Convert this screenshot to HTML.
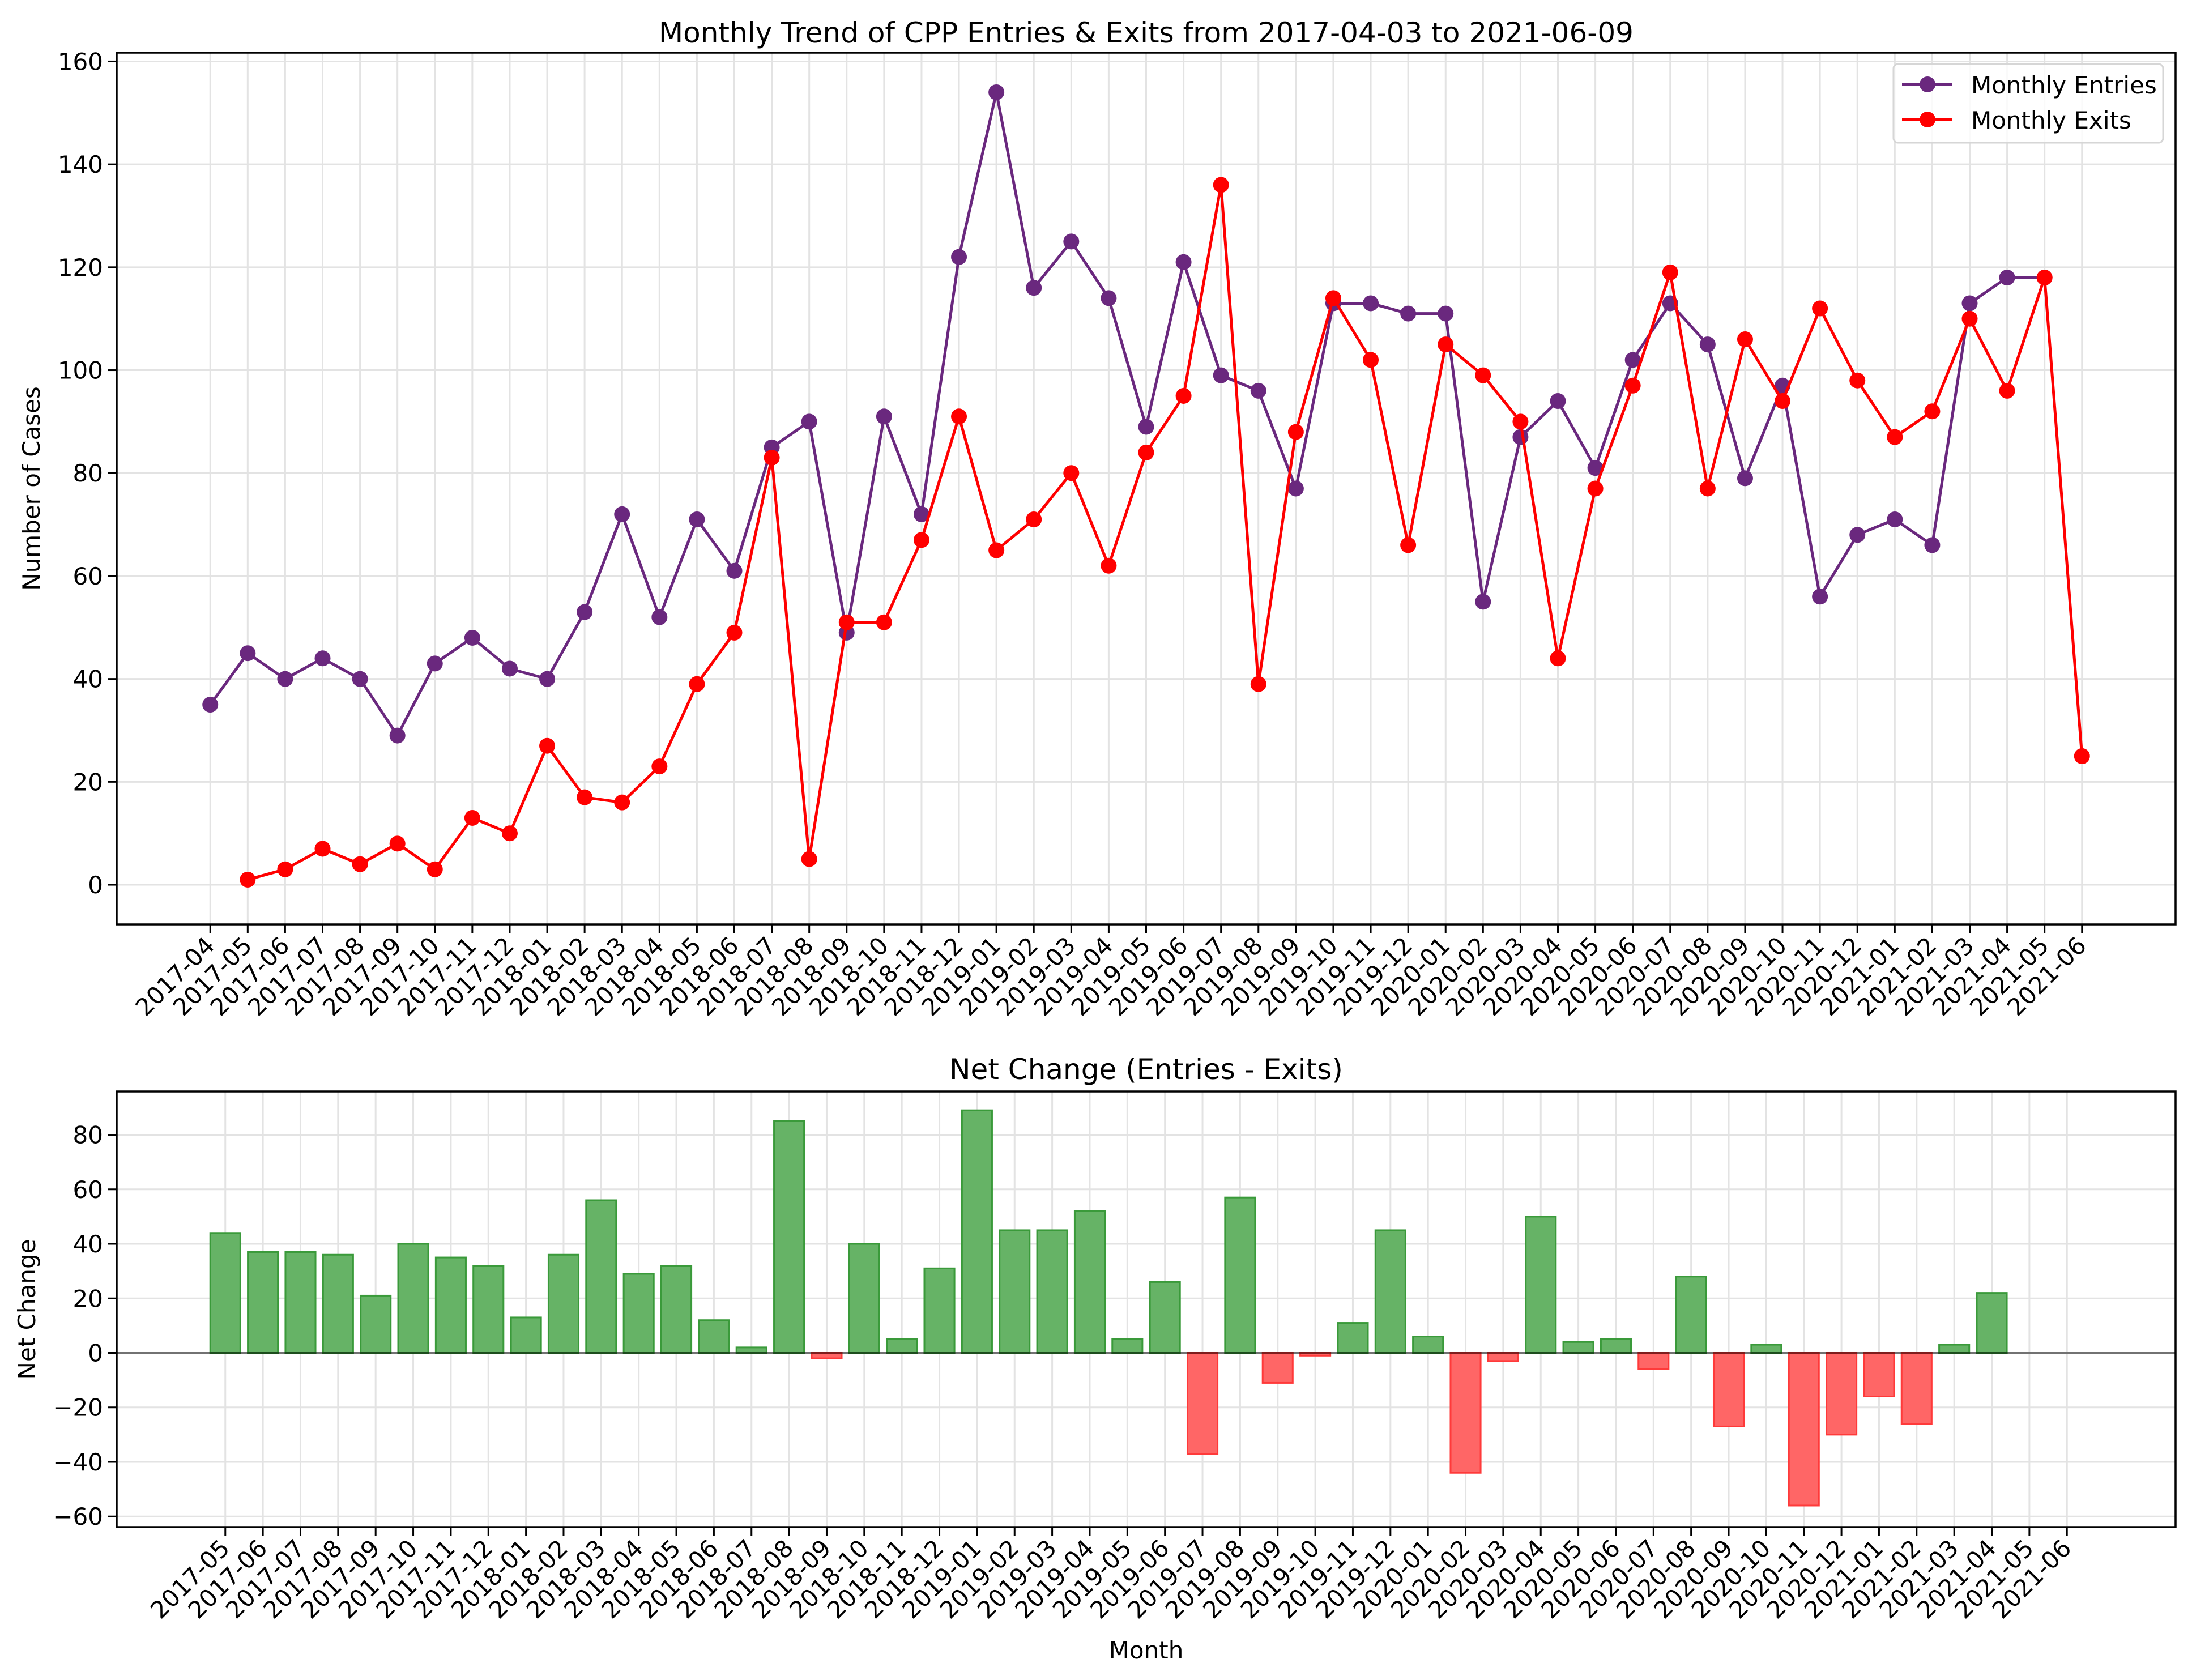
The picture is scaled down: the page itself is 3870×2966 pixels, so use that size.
<!DOCTYPE html>
<html><head><meta charset="utf-8"><style>
html,body{margin:0;padding:0;background:#fff;}
svg{display:block;font-family:"DejaVu Sans","Liberation Sans",sans-serif;}
</style></head><body>
<svg id="fig" width="3870" height="2966" viewBox="0 0 3870 2966" xmlns="http://www.w3.org/2000/svg">
<rect width="3870" height="2966" fill="#fff"/>
<g id="top"></g>
<g id="bot"></g>
</svg>
<script>
const months = ["2017-04","2017-05","2017-06","2017-07","2017-08","2017-09","2017-10","2017-11","2017-12","2018-01","2018-02","2018-03","2018-04","2018-05","2018-06","2018-07","2018-08","2018-09","2018-10","2018-11","2018-12","2019-01","2019-02","2019-03","2019-04","2019-05","2019-06","2019-07","2019-08","2019-09","2019-10","2019-11","2019-12","2020-01","2020-02","2020-03","2020-04","2020-05","2020-06","2020-07","2020-08","2020-09","2020-10","2020-11","2020-12","2021-01","2021-02","2021-03","2021-04","2021-05","2021-06"];
const entries = [35,45,40,44,40,29,43,48,42,40,53,72,52,71,61,85,90,49,91,72,122,154,116,125,114,89,121,99,96,77,113,113,111,111,55,87,94,81,102,113,105,79,97,56,68,71,66,113,118,118,null];
const exits = [null,1,3,7,4,8,3,13,10,27,17,16,23,39,49,83,5,51,51,67,91,65,71,80,62,84,95,136,39,88,114,102,66,105,99,90,44,77,97,119,77,106,94,112,98,87,92,110,96,118,25];
const netMonths = months.slice(1);
const netValues = [44,37,37,36,21,40,35,32,13,36,56,29,32,12,2,85,-2,40,5,31,89,45,45,52,5,26,-37,57,-11,-1,11,45,6,-44,-3,50,4,5,-6,28,-27,3,-56,-30,-16,-26,3,22,0,0];
const topTicks = [0,20,40,60,80,100,120,140,160];
const botTicks = [-60,-40,-20,0,20,40,60,80];

const NS="http://www.w3.org/2000/svg";
function mk(parent,tag,attrs,text){const e=document.createElementNS(NS,tag);for(const k in attrs)e.setAttribute(k,attrs[k]);if(text!==undefined)e.textContent=text;parent.appendChild(e);return e;}
const L=206,R=3841;
// top axis
const T=document.getElementById('top');
const tT=93,tB=1632,tymin=-7.7,tymax=161.7,txmin=-2.5,txmax=52.5;
const tx=i=>L+(i-txmin)/(txmax-txmin)*(R-L);
const ty=v=>tB-(v-tymin)/(tymax-tymin)*(tB-tT);
for(let i=0;i<months.length;i++){const g=mk(T,'line',{x1:tx(i),x2:tx(i),y1:tT,y2:tB,stroke:'#e3e3e3','stroke-width':3});

}
topTicks.forEach(v=>{const g=mk(T,'line',{x1:L,x2:R,y1:ty(v),y2:ty(v),stroke:'#e3e3e3','stroke-width':3});


const tk=mk(T,'line',{x1:L-15,x2:L,y1:ty(v),y2:ty(v),stroke:'#000','stroke-width':3});


const t=mk(T,'text',{x:L-24,y:ty(v)+15,'text-anchor':'end','font-size':42},String(v));

});
function series(vals,color,name){
 let pts=[];vals.forEach((v,i)=>{if(v!==null)pts.push(tx(i)+','+ty(v));});
 const pl=mk(T,'polyline',{points:pts.join(' '),fill:'none',stroke:color,'stroke-width':5,'stroke-linejoin':'round'});
 
 
 vals.forEach((v,i)=>{if(v===null)return;const c=mk(T,'circle',{cx:tx(i),cy:ty(v),r:14,fill:color});
 
 });
}
series(entries,'#6a287e','entries');
series(exits,'#ff0000','exits');
months.forEach((m,i)=>{const tk=mk(T,'line',{x1:tx(i),x2:tx(i),y1:tB,y2:tB+15,stroke:'#000','stroke-width':3});


const x=tx(i)+10,y=tB+40;
const t=mk(T,'text',{x:x,y:y,'text-anchor':'end','font-size':42,transform:`rotate(-45 ${x} ${y})`},m);

});
const fr=mk(T,'rect',{x:L,y:tT,width:R-L,height:tB-tT,fill:'none',stroke:'#000','stroke-width':3.5});


const tt=mk(T,'text',{x:(L+R)/2,y:75,'text-anchor':'middle','font-size':50},'Monthly Trend of CPP Entries & Exits from 2017-04-03 to 2021-06-09');


const yl=mk(T,'text',{x:0,y:0,'text-anchor':'middle','font-size':42,transform:`translate(70 ${(tT+tB)/2}) rotate(-90)`},'Number of Cases');


// legend
const lg=mk(T,'g',{});


mk(lg,'rect',{x:3343,y:113,width:476,height:139,rx:8,fill:'#fff','fill-opacity':0.8,stroke:'#d6d6d6','stroke-width':3});
[['Monthly Entries','#6a287e',149],['Monthly Exits','#ff0000',211]].forEach(([lab,c,y])=>{
 const e=mk(lg,'g',{});
 
 
 mk(e,'line',{x1:3358,x2:3447,y1:y,y2:y,stroke:c,'stroke-width':5});
 mk(e,'circle',{cx:3403,cy:y,r:14,fill:c});
 mk(e,'text',{x:3480,y:y+16,'font-size':42},lab);
});
// bottom axis
const B=document.getElementById('bot');
const bT=1927,bB=2696,bymin=-63.9,bymax=95.9,bxmin=-2.89,bxmax=51.89;
const bx=i=>L+(i-bxmin)/(bxmax-bxmin)*(R-L);
const by=v=>bB-(v-bymin)/(bymax-bymin)*(bB-bT);
netMonths.forEach((m,i)=>{const g=mk(B,'line',{x1:bx(i),x2:bx(i),y1:bT,y2:bB,stroke:'#e3e3e3','stroke-width':3});

});
botTicks.forEach(v=>{const g=mk(B,'line',{x1:L,x2:R,y1:by(v),y2:by(v),stroke:'#e3e3e3','stroke-width':3});


const tk=mk(B,'line',{x1:L-15,x2:L,y1:by(v),y2:by(v),stroke:'#000','stroke-width':3});


const t=mk(B,'text',{x:L-24,y:by(v)+15,'text-anchor':'end','font-size':42},String(v).replace('-','\u2212'));

});
const bw=0.8*(R-L)/(bxmax-bxmin);
netValues.forEach((v,i)=>{const pos=v>=0;const y0=by(0),y1=by(v);
 const r=mk(B,'rect',{x:bx(i)-bw/2,y:Math.min(y0,y1),width:bw,height:Math.abs(y1-y0),fill:pos?'#66b366':'#ff6666',stroke:pos?'#3a9a3a':'#ff3a3a','stroke-width':3});
 
 });
const zl=mk(B,'line',{x1:L,x2:R,y1:by(0),y2:by(0),stroke:'#000','stroke-width':2});


netMonths.forEach((m,i)=>{const tk=mk(B,'line',{x1:bx(i),x2:bx(i),y1:bB,y2:bB+15,stroke:'#000','stroke-width':3});


const x=bx(i)+10,y=bB+40;
const t=mk(B,'text',{x:x,y:y,'text-anchor':'end','font-size':42,transform:`rotate(-45 ${x} ${y})`},m);

});
const bf=mk(B,'rect',{x:L,y:bT,width:R-L,height:bB-bT,fill:'none',stroke:'#000','stroke-width':3.5});


const bt=mk(B,'text',{x:(L+R)/2,y:1905,'text-anchor':'middle','font-size':50},'Net Change (Entries - Exits)');


const byl=mk(B,'text',{x:0,y:0,'text-anchor':'middle','font-size':42,transform:`translate(62 ${(bT+bB)/2}) rotate(-90)`},'Net Change');


const xl=mk(B,'text',{x:(L+R)/2,y:2928,'text-anchor':'middle','font-size':42},'Month');


</script>
</body></html>
